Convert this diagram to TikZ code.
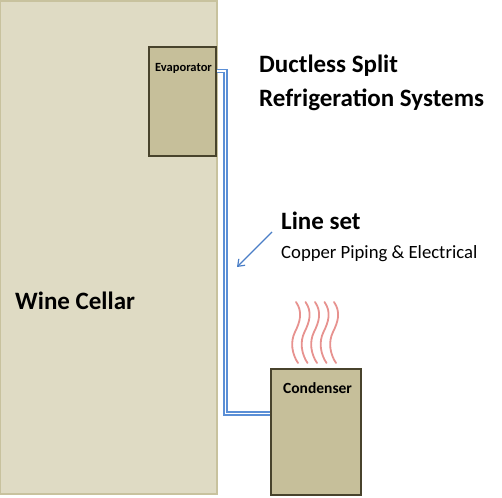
\documentclass[tikz,border=0pt]{standalone}
\usepackage{fontspec}
\setmainfont{Carlito}
\usetikzlibrary{arrows.meta}

\definecolor{cellarfill}{HTML}{DFDBC4}
\definecolor{cellaredge}{HTML}{C8C29E}
\definecolor{unitfill}{HTML}{C6BF9A}
\definecolor{unitedge}{HTML}{48432C}
\definecolor{pipeblue}{HTML}{5B8FD6}
\definecolor{arrowblue}{HTML}{4A7EC6}
\definecolor{heatred}{HTML}{E7928F}

\tikzset{
  unitbox/.style={draw=unitedge, fill=unitfill, line width=1.5pt, inner sep=0pt},
  pipe/.style={draw=pipeblue, line width=1.3pt, double=white, double distance=1.5pt},
  heatwave/.style={draw=heatred, line width=1.8pt, line cap=round},
  lbl/.style={anchor=base west, inner sep=0pt, text=black}
}

\begin{document}
\begin{tikzpicture}[x=1pt,y=1pt,yscale=-1,xscale=1]
\useasboundingbox (0,0) rectangle (502,497);

%Boxes
\node [draw=cellaredge, fill=cellarfill, line width=1.5pt, inner sep=0pt, minimum width=217pt, minimum height=493pt] (cellar) at (108.5,247.5) {};
\node [unitbox, minimum width=67pt, minimum height=109pt] (evap) at (182.5,101.5) {};
\node [unitbox, minimum width=90pt, minimum height=126pt] (cond) at (316,432) {};

%Line set
\coordinate (bendtop) at (225.5,71);
\coordinate (bendbot) at (225.5,413.5);
\draw [pipe] (evap.east |- bendtop) -- (bendtop) -- (bendbot) -- (bendbot -| cond.west);

%Straight Lines
\coordinate (arrowtail) at (272,232);
\coordinate (arrowtip) at (237,267);
\draw [arrowblue, line width=1.2pt, -{Straight Barb[length=6pt,width=9pt]}] (arrowtail) -- (arrowtip);

%Heat waves
\foreach \x in {296,305.5,315,324.5,334}
  \draw [heatwave] (\x,302) .. controls (\x+7,312) and (\x+4,322) .. (\x-1,332) .. controls (\x-6,342) and (\x-4,354) .. (\x+2,363);

% Text Node
\node [lbl, font=\fontsize{25}{30}\selectfont\bfseries] (title1) at (259,73) {Ductless Split};
% Text Node
\node [lbl, font=\fontsize{25}{30}\selectfont\bfseries] (title2) at (259,107) {Refrigeration Systems};
% Text Node
\node [lbl, font=\fontsize{25}{30}\selectfont\bfseries] (lineset) at (281,229) {Line set};
% Text Node
\node [lbl, font=\fontsize{18.7}{22}\selectfont] (copper) at (281,258) {Copper Piping \& Electrical};
% Text Node
\node [lbl, font=\fontsize{25}{30}\selectfont\bfseries] (cellartext) at (15,309) {Wine Cellar};
% Text Node
\node [lbl, font=\fontsize{12.5}{15}\selectfont\bfseries] (evaptext) at (155,72) {Evaporator};
% Text Node
\node [lbl, font=\fontsize{15.5}{18}\selectfont\bfseries] (condtext) at (283,393) {Condenser};

\end{tikzpicture}
\end{document}
